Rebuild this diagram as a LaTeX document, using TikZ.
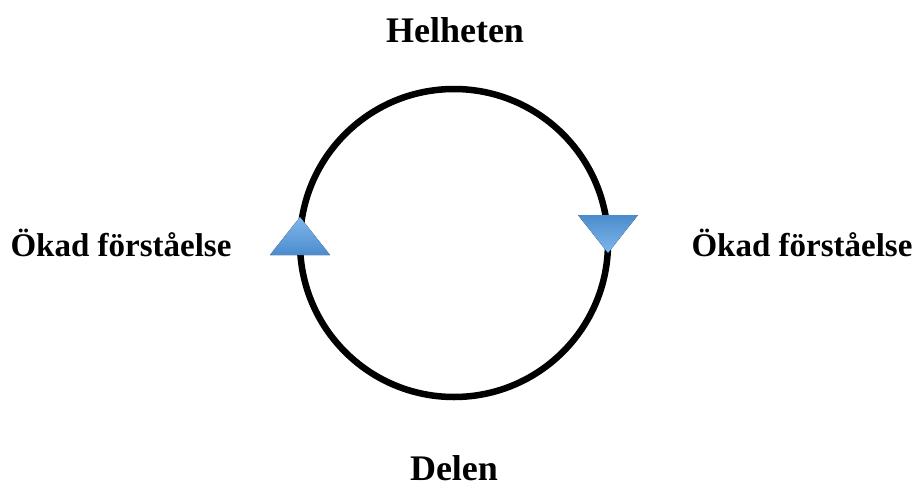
\documentclass[tikz,border=0pt]{standalone}
\usepackage{fontspec}
\setmainfont{Liberation Serif}
\usetikzlibrary{calc}
\definecolor{triblue}{RGB}{91,155,213}
\definecolor{trilight}{RGB}{128,182,236}
\definecolor{tridark}{RGB}{75,140,205}
\tikzset{%
    lbl/.style={font=\bfseries\fontsize{36}{42}\selectfont, inner sep=0pt},
    lbls/.style={font=\bfseries\fontsize{33}{40}\selectfont, inner sep=0pt},
    ring/.style={line width=6.5pt, black},
    triup/.style={top color=trilight, bottom color=tridark, draw=none},
    tridown/.style={top color=tridark, bottom color=trilight, draw=none},
}
\begin{document}
\begin{tikzpicture}[x=1pt,y=1pt]
    \useasboundingbox (0,0) rectangle (914,-488);
    \coordinate (c) at (454,-243);
    \draw [ring] (c) circle (154);
    \node [lbl] (helheten) at (455,-30) {Helheten};
    \node [lbl] (delen) at (454,-468) {Delen};
    \node [lbls] (vanster) at (121,-243) {Ökad förståelse};
    \node [lbls] (hoger) at (802,-243) {Ökad förståelse};
    \fill [triup] (300,-217) -- (330,-255) -- (270,-255) -- cycle;
    \fill [tridown] (578,-215) -- (638,-215) -- (608,-253) -- cycle;
\end{tikzpicture}
\end{document}
